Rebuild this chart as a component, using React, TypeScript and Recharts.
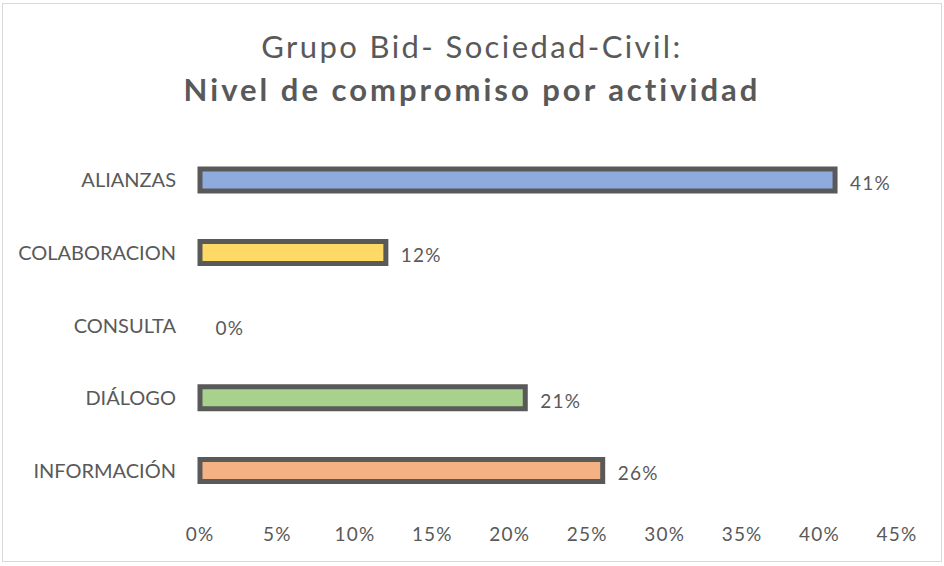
import { Bar, BarChart, Cell, LabelList, XAxis, YAxis } from "recharts"

const categories = ["ALIANZAS", "COLABORACION", "CONSULTA", "DIÁLOGO", "INFORMACIÓN"]
const values = [41, 12, 0, 21, 26]
const colors = ["#8FAADC", "#FFD966", "#A9D18E", "#A9D18E", "#F4B183"]
const xTicks = [0, 5, 10, 15, 20, 25, 30, 35, 40, 45]

const data = categories.map((name, i) => ({ name, value: values[i] }))

const font = "Lato, 'Noto Sans', sans-serif"
const gray = "#595959"

export default function App() {
    return (
        <div style={{ position: "absolute", left: 0, top: 0, width: 944, height: 566, background: "#fff", fontFamily: font }}>
            <div
                style={{
                    position: "absolute",
                    left: 2,
                    top: 3,
                    width: 938,
                    height: 557,
                    border: "1px solid #d9d9d9",
                }}
            />
            <div style={{ position: "absolute", left: 0, top: 25, width: 944, textAlign: "center", color: gray }}>
                <div style={{ fontSize: 31, lineHeight: "43px", letterSpacing: 2.4 }}>Grupo Bid- Sociedad-Civil:</div>
                <div style={{ fontSize: 31, lineHeight: "43px", fontWeight: 700, letterSpacing: 3 }}>
                    Nivel de compromiso por actividad
                </div>
            </div>
            <div style={{ position: "absolute", left: 0, top: 0 }}>
                <BarChart
                    width={944}
                    height={566}
                    data={data}
                    layout="vertical"
                    margin={{ top: 144, right: 47, left: 0, bottom: 0 }}
                >
                    <XAxis
                        type="number"
                        domain={[0, 45]}
                        ticks={xTicks}
                        tickFormatter={(v) => `${v}%`}
                        axisLine={false}
                        tickLine={false}
                        tickSize={0}
                        tickMargin={21}
                        height={59}
                        interval={0}
                        tick={{ fill: gray, fontSize: 19, fontFamily: font, letterSpacing: 1.2 }}
                    />
                    <YAxis
                        type="category"
                        dataKey="name"
                        width={200}
                        axisLine={false}
                        tickLine={false}
                        tickSize={0}
                        tickMargin={24}
                        interval={0}
                        tick={{ fill: gray, fontSize: 20, fontFamily: font }}
                    />
                    <Bar
                        dataKey="value"
                        barSize={22}
                        stroke="#595959"
                        strokeWidth={5}
                        minPointSize={0.5}
                        isAnimationActive={false}
                    >
                        {data.map((d, i) => (
                            <Cell
                                key={d.name}
                                fill={d.value === 0 ? "none" : colors[i]}
                                stroke={d.value === 0 ? "none" : "#595959"}
                            />
                        ))}
                        <LabelList
                            dataKey="value"
                            position="right"
                            offset={15}
                            formatter={(v: number) => `${v}%`}
                            style={{ fill: gray, fontSize: 19, fontFamily: font, letterSpacing: 1.2 }}
                            dy={3}
                        />
                    </Bar>
                </BarChart>
            </div>
        </div>
    )
}
